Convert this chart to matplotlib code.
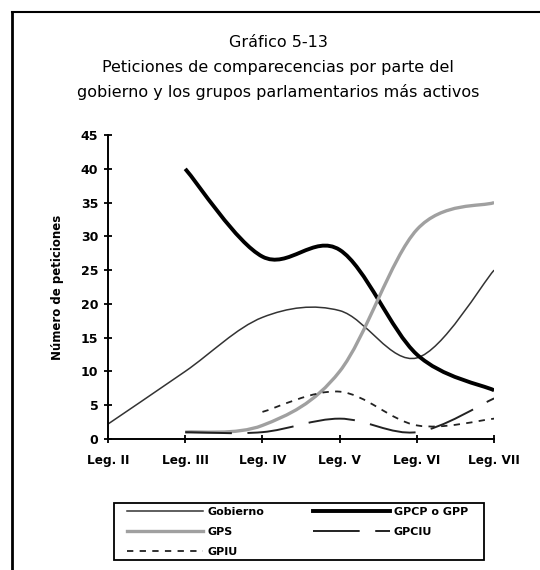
import matplotlib
matplotlib.use("Agg")
import matplotlib.pyplot as plt
import numpy as np
from matplotlib.path import Path
from matplotlib.patches import PathPatch, Rectangle
from matplotlib.lines import Line2D

plt.rcParams['font.family'] = ['DejaVu Sans']

legislaturas = ["Leg. II", "Leg. III", "Leg. IV", "Leg. V", "Leg. VI", "Leg. VII"]
gobierno = [2.2, 10, 18, 19, 12, 25]
gpcp_gpp = [np.nan, 40, 27, 28, 12.5, 7.2]
gps = [np.nan, 1, 2, 10, 31, 35]
gpciu = [np.nan, 1, 1, 3, 1, 6]
gpiu = [np.nan, np.nan, 4, 7, 2, 3]


def smooth_path(xs, ys):
    # bezier a la Excel "linea suavizada"
    pts = [(x, y) for x, y in zip(xs, ys) if not np.isnan(y)]
    pts = np.array(pts, dtype=float)
    verts = [tuple(pts[0])]
    codes = [Path.MOVETO]
    n = len(pts)
    for i in range(n - 1):
        p0 = pts[i - 1] if i > 0 else pts[i]
        p1 = pts[i]
        p2 = pts[i + 1]
        p3 = pts[i + 2] if i + 2 < n else pts[i + 1]
        c1 = p1 + (p2 - p0) / 6
        c2 = p2 - (p3 - p1) / 6
        verts += [tuple(c1), tuple(c2), tuple(p2)]
        codes += [Path.CURVE4] * 3
    return Path(verts, codes)


W, H = 540, 570
fig = plt.figure(figsize=(W / 100, H / 100), dpi=100)
ax = fig.add_axes([0.2, 0.23, 0.715, 0.533])

x = np.arange(len(legislaturas))
series = [
    ("Gobierno", gobierno, dict(color="#333333", lw=1.1, ls="-")),
    ("GPCP o GPP", gpcp_gpp, dict(color="black", lw=2.8, ls="-")),
    ("GPS", gps, dict(color="#a0a0a0", lw=2.4, ls="-")),
    ("GPCIU", gpciu, dict(color="#222222", lw=1.4, ls=(0, (24, 8)))),
    ("GPIU", gpiu, dict(color="#222222", lw=1.3, ls=(0, (3.5, 3.5)))),
]

handles = {}
for name, vals, st in series:
    patch = PathPatch(smooth_path(x, vals), facecolor="none", edgecolor=st["color"],
                      lw=st["lw"], linestyle=st["ls"], capstyle="butt")
    ax.add_patch(patch)
    handles[name] = Line2D([], [], color=st["color"], lw=st["lw"], ls=st["ls"])

ax.set_xlim(0, 5)
ax.set_ylim(0, 45)
ax.set_yticks(range(0, 46, 5))
ax.set_xticks(x)
ax.set_xticklabels(legislaturas, fontsize=8.7, fontweight="bold")
for lab in ax.get_yticklabels():
    lab.set_fontsize(9)
    lab.set_fontweight("bold")
ax.tick_params(direction="inout", length=6, width=1.3, pad=4)
ax.tick_params(axis="x", pad=8)
for side in ["top", "right"]:
    ax.spines[side].set_visible(False)
for side in ["left", "bottom"]:
    ax.spines[side].set_linewidth(1.4)
ax.set_ylabel("Número de peticiones", fontsize=8.5, fontweight="bold", labelpad=12)

# leyenda (marco dibujado aparte)
order = ["Gobierno", "GPS", "GPIU", "GPCP o GPP", "GPCIU"]
leg = fig.legend([handles[k] for k in order], order, loc="upper left",
                 bbox_to_anchor=(127 / W, 1 - 507 / H), ncol=2, frameon=False,
                 handlelength=6.85, handletextpad=0.36, columnspacing=4.45,
                 labelspacing=0.9, borderpad=0, borderaxespad=0,
                 prop=dict(weight="bold", size=8))
fig.add_artist(Rectangle((114 / W, 1 - 560 / H), 370 / W, 57 / H, transform=fig.transFigure,
                         fill=False, edgecolor="black", lw=1.3))

fig.text(0.515, 0.925, "Gráfico 5-13", ha="center", va="center", fontsize=11.5)
fig.text(0.515, 0.882, "Peticiones de comparecencias por parte del", ha="center", va="center", fontsize=11.5)
fig.text(0.515, 0.838, "gobierno y los grupos parlamentarios más activos", ha="center", va="center", fontsize=11.5)

# marco
fig.add_artist(Line2D([0.022, 0.022], [0, 0.979], color="black", lw=2, transform=fig.transFigure))
fig.add_artist(Line2D([0.022, 1.0], [0.979, 0.979], color="black", lw=1.5, transform=fig.transFigure))

fig.savefig("out.png", dpi=100)
